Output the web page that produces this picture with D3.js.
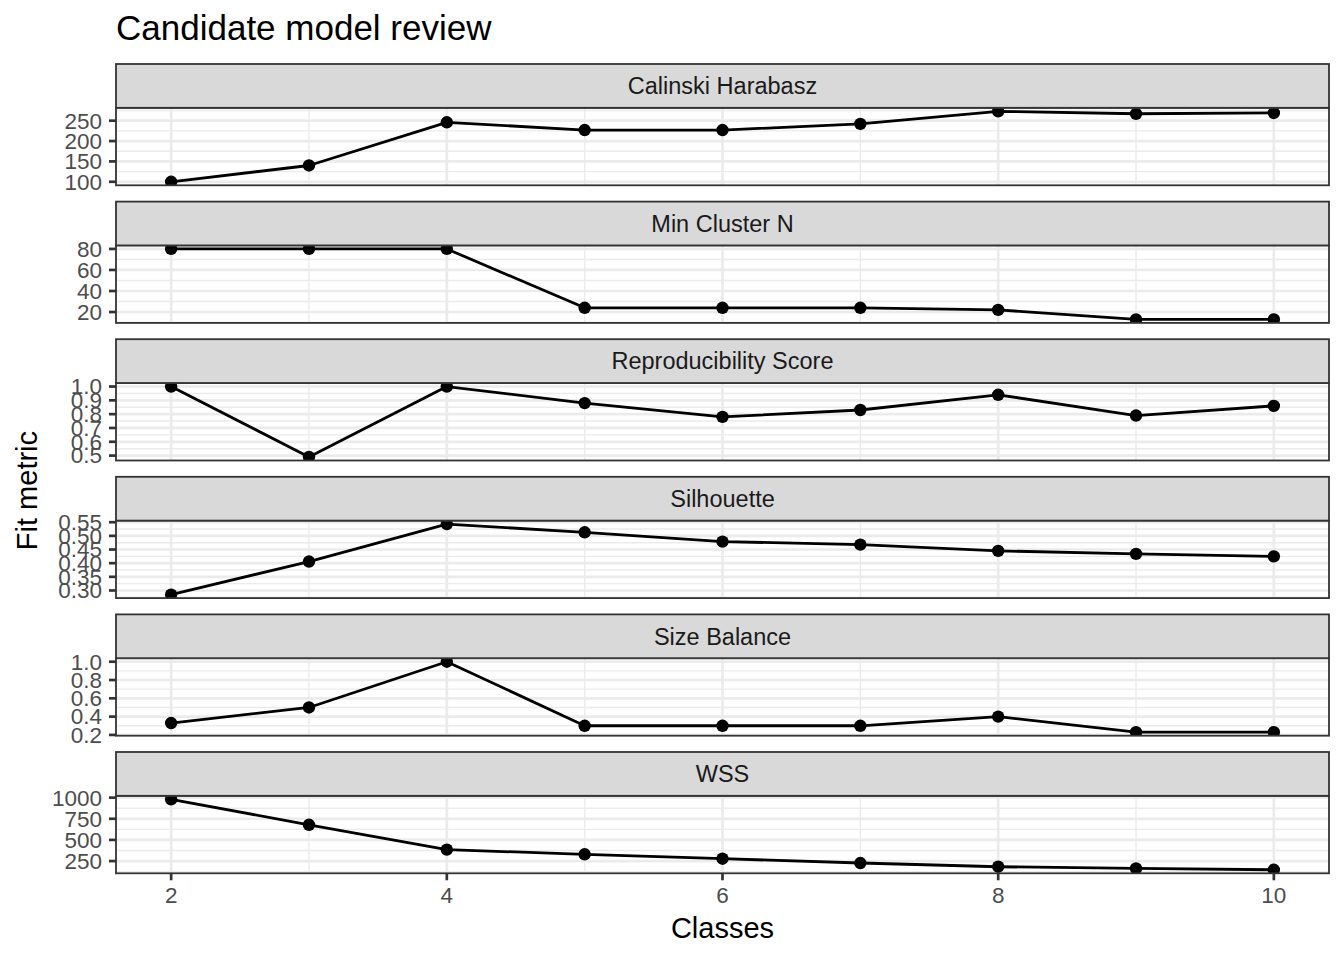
<!DOCTYPE html>
<html>
<head>
<meta charset="utf-8">
<script src="https://cdn.jsdelivr.net/npm/d3@7"></script>
<style>
  body { margin: 0; background: #fff; }
  svg { display: block; font-family: "Liberation Sans", Arial, sans-serif; }
</style>
</head>
<body>
<svg id="chart" width="1344" height="960"></svg>
<script>
// ---- data ----
const classes = [2, 3, 4, 5, 6, 7, 8, 9, 10];
const metrics = ['Calinski Harabasz', 'Min Cluster N', 'Reproducibility Score', 'Silhouette', 'Size Balance', 'WSS'];

const calinski        = [100, 140, 246, 227, 227, 242, 273, 267, 269];
const minClusterN     = [80, 80, 80, 24, 24, 24, 22, 13, 13];
const reproducibility = [1.0, 0.49, 1.0, 0.88, 0.78, 0.83, 0.94, 0.79, 0.86];
const silhouette      = [0.285, 0.406, 0.543, 0.513, 0.479, 0.468, 0.445, 0.434, 0.425];
const sizeBalance     = [0.33, 0.5, 1.0, 0.3, 0.3, 0.3, 0.4, 0.23, 0.23];
const wss             = [980, 679, 385, 330, 278, 227, 183, 163, 147];

const xTicks = [2, 4, 6, 8, 10];
const yTicks = [
  [100, 150, 200, 250],
  [20, 40, 60, 80],
  [0.5, 0.6, 0.7, 0.8, 0.9, 1.0],
  [0.30, 0.35, 0.40, 0.45, 0.50, 0.55],
  [0.2, 0.4, 0.6, 0.8, 1.0],
  [250, 500, 750, 1000]
];
const yLabels = [
  ['100', '150', '200', '250'],
  ['20', '40', '60', '80'],
  ['0.5', '0.6', '0.7', '0.8', '0.9', '1.0'],
  ['0.30', '0.35', '0.40', '0.45', '0.50', '0.55'],
  ['0.2', '0.4', '0.6', '0.8', '1.0'],
  ['250', '500', '750', '1000']
];

const series = [calinski, minClusterN, reproducibility, silhouette, sizeBalance, wss];

// ---- layout ----
const L = 116, R = 1329;
const top0 = 64, period = 137.6, stripH = 43.8, panelH = 77.5;
const GRID = '#EBEBEB', DARK = '#333333', AXIS_TXT = '#4D4D4D';

const svg = d3.select('#chart');

// ggplot style 5% expansion
function expand([a, b], f = 0.05) {
  const d = (b - a) * f;
  return [a - d, b + d];
}
function minorsOf(ticks, domain) {
  const step = ticks[1] - ticks[0];
  return d3.range(ticks[0] - step / 2, ticks[ticks.length - 1] + step, step)
    .filter(v => v > domain[0] && v < domain[1] && !ticks.some(t => Math.abs(t - v) < 1e-9));
}

const x = d3.scaleLinear().domain(expand(d3.extent(classes))).range([L, R]);
const xMinor = minorsOf(xTicks, x.domain());

svg.append('text')
  .attr('x', L).attr('y', 40)
  .attr('font-size', 35).attr('fill', '#000')
  .text('Candidate model review');

metrics.forEach((name, i) => {
  const sTop = top0 + i * period;
  const pTop = sTop + stripH, pBot = pTop + panelH;
  const vals = series[i];
  const data = classes.map((c, j) => ({ c, v: vals[j] }));
  const y = d3.scaleLinear().domain(expand(d3.extent(vals))).range([pBot, pTop]);
  const ticks = yTicks[i];
  const yMinor = minorsOf(ticks, y.domain());

  const clipId = `clip-${i}`;
  svg.append('clipPath').attr('id', clipId)
    .append('rect').attr('x', L).attr('y', pTop).attr('width', R - L).attr('height', panelH);

  const g = svg.append('g').attr('clip-path', `url(#${clipId})`);

  // grid
  g.append('g').selectAll('line').data(yMinor).join('line')
    .attr('x1', L).attr('x2', R).attr('y1', d => y(d)).attr('y2', d => y(d))
    .attr('stroke', GRID).attr('stroke-width', 1.4);
  g.append('g').selectAll('line').data(xMinor).join('line')
    .attr('y1', pTop).attr('y2', pBot).attr('x1', d => x(d)).attr('x2', d => x(d))
    .attr('stroke', GRID).attr('stroke-width', 1.4);
  g.append('g').selectAll('line').data(ticks).join('line')
    .attr('x1', L).attr('x2', R).attr('y1', d => y(d)).attr('y2', d => y(d))
    .attr('stroke', GRID).attr('stroke-width', 2.7);
  g.append('g').selectAll('line').data(xTicks).join('line')
    .attr('y1', pTop).attr('y2', pBot).attr('x1', d => x(d)).attr('x2', d => x(d))
    .attr('stroke', GRID).attr('stroke-width', 2.7);

  // line + points
  g.append('path').datum(data)
    .attr('fill', 'none').attr('stroke', '#000').attr('stroke-width', 2.8)
    .attr('stroke-linejoin', 'round')
    .attr('d', d3.line().x(d => x(d.c)).y(d => y(d.v)));
  g.append('g').selectAll('circle').data(data).join('circle')
    .attr('cx', d => x(d.c)).attr('cy', d => y(d.v)).attr('r', 6.2).attr('fill', '#000');

  // panel border
  svg.append('rect')
    .attr('x', L).attr('y', pTop).attr('width', R - L).attr('height', panelH)
    .attr('fill', 'none').attr('stroke', DARK).attr('stroke-width', 1.8);

  // strip
  svg.append('rect')
    .attr('x', L).attr('y', sTop).attr('width', R - L).attr('height', stripH)
    .attr('fill', '#D9D9D9').attr('stroke', DARK).attr('stroke-width', 1.8);
  svg.append('text')
    .attr('x', (L + R) / 2).attr('y', sTop + stripH / 2).attr('dy', '0.35em')
    .attr('text-anchor', 'middle').attr('font-size', 23.5).attr('fill', '#1A1A1A')
    .text(name);

  // y axis (labels overlap in the dense panels, as in the reference)
  const ya = svg.append('g');
  ya.selectAll('line').data(ticks).join('line')
    .attr('x1', L - 7).attr('x2', L).attr('y1', d => y(d)).attr('y2', d => y(d))
    .attr('stroke', DARK).attr('stroke-width', 2.7);
  ya.selectAll('text').data(ticks).join('text')
    .attr('x', L - 14).attr('y', d => y(d)).attr('dy', '0.35em')
    .attr('text-anchor', 'end').attr('font-size', 22.5).attr('fill', AXIS_TXT)
    .text((d, j) => yLabels[i][j]);

  // x axis on the last panel only
  if (i === metrics.length - 1) {
    const xa = svg.append('g');
    xa.selectAll('line').data(xTicks).join('line')
      .attr('x1', d => x(d)).attr('x2', d => x(d)).attr('y1', pBot).attr('y2', pBot + 7)
      .attr('stroke', DARK).attr('stroke-width', 2.7);
    xa.selectAll('text').data(xTicks).join('text')
      .attr('x', d => x(d)).attr('y', pBot + 29.5)
      .attr('text-anchor', 'middle').attr('font-size', 22.5).attr('fill', AXIS_TXT)
      .text(d => d);
  }
});

// axis titles
const panelsTop = top0 + stripH;
const panelsBot = top0 + (metrics.length - 1) * period + stripH + panelH;
svg.append('text')
  .attr('x', (L + R) / 2).attr('y', 938)
  .attr('text-anchor', 'middle').attr('font-size', 29).attr('fill', '#000')
  .text('Classes');
svg.append('text')
  .attr('transform', `translate(36.5,${(panelsTop + panelsBot) / 2}) rotate(-90)`)
  .attr('text-anchor', 'middle').attr('font-size', 29).attr('fill', '#000')
  .text('Fit metric');
</script>
</body>
</html>
